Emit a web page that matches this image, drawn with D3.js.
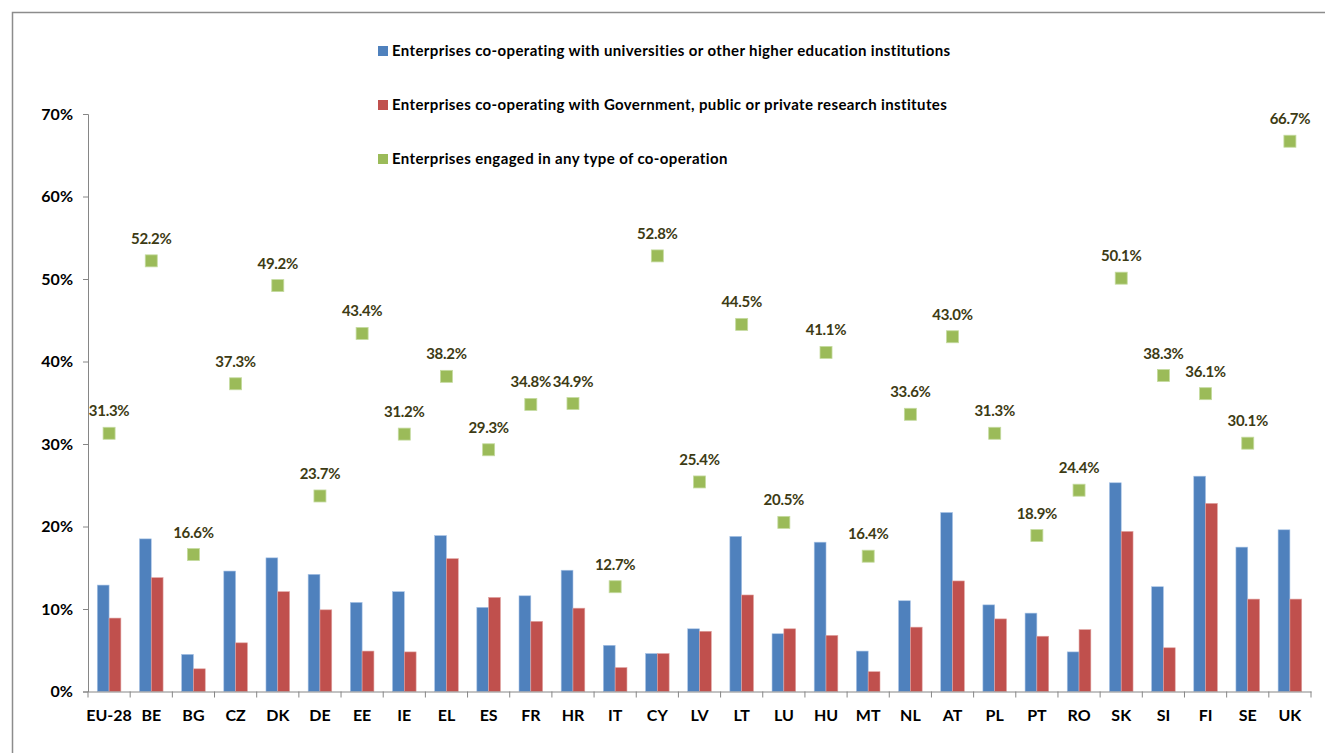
<!DOCTYPE html>
<html>
<head>
<meta charset="utf-8">
<script src="https://cdn.jsdelivr.net/npm/d3@7"></script>
<style>
  html, body { margin: 0; padding: 0; background: #fff; }
  svg { display: block; }
  text { font-family: Lato, "Liberation Sans", sans-serif; font-weight: bold; }
</style>
</head>
<body>
<svg id="chart" width="1325" height="753"></svg>
<script>
const categories = ["EU-28","BE","BG","CZ","DK","DE","EE","IE","EL","ES","FR","HR","IT","CY","LV","LT","LU","HU","MT","NL","AT","PL","PT","RO","SK","SI","FI","SE","UK"];
const universities = [12.9,18.5,4.5,14.6,16.2,14.2,10.8,12.1,18.9,10.2,11.6,14.7,5.6,4.6,7.6,18.8,7.0,18.1,4.9,11.0,21.7,10.5,9.5,4.8,25.3,12.7,26.1,17.5,19.6];
const government = [8.9,13.8,2.75,5.9,12.1,9.9,4.9,4.8,16.1,11.4,8.5,10.1,2.9,4.6,7.3,11.7,7.6,6.8,2.4,7.8,13.4,8.8,6.7,7.5,19.4,5.3,22.8,11.2,11.2];
const anyType = [31.3,52.2,16.6,37.3,49.2,23.7,43.4,31.2,38.2,29.3,34.8,34.9,12.7,52.8,25.4,44.5,20.5,41.1,16.4,33.6,43.0,31.3,18.9,24.4,50.1,38.3,36.1,30.1,66.7];
const yTicks = [0,10,20,30,40,50,60,70];
const seriesNames = [
  "Enterprises co-operating with universities or other higher education institutions",
  "Enterprises co-operating with Government, public or private research institutes",
  "Enterprises engaged in any type of co-operation"
];
const colors = ["#4F81BD","#C0504D","#9BBB59"];

const svg = d3.select("#chart");

// outer frame
svg.append("rect").attr("x",12.5).attr("y",12.5).attr("width",1400).attr("height",800)
  .attr("fill","none").attr("stroke","#8c8c8c").attr("stroke-width",1.5);

const mLeft = 88, mRight = 1311, mTop = 114, mBottom = 691.5;
const x = d3.scaleBand().domain(categories).range([mLeft, mRight]).paddingInner(0).paddingOuter(0);
const y = d3.scaleLinear().domain([0,70]).range([mBottom, mTop]);
const barW = x.bandwidth() * 0.28;

const g = svg.append("g");

// bars
categories.forEach((c,i) => {
  const cx = x(c) + x.bandwidth()/2;
  g.append("rect").attr("x", cx - barW).attr("y", y(universities[i]))
    .attr("width", barW).attr("height", y(0) - y(universities[i]))
    .attr("fill", colors[0]).attr("stroke","#a9c4e6").attr("stroke-width",0.6);
  g.append("rect").attr("x", cx).attr("y", y(government[i]))
    .attr("width", barW).attr("height", y(0) - y(government[i]))
    .attr("fill", colors[1]).attr("stroke","#e0a3a1").attr("stroke-width",0.6);
});

// y axis
const yAxis = d3.axisLeft(y).tickValues(yTicks).tickFormat(d => d + "%").tickSize(5).tickPadding(10);
const yg = svg.append("g").attr("transform", `translate(${mLeft},0)`).call(yAxis);
yg.select(".domain").attr("stroke","#868686");
yg.selectAll(".tick line").attr("stroke","#868686");
yg.selectAll(".tick text").attr("fill","#000").style("font-size","16px").style("font-family","Lato, sans-serif").style("font-weight","bold");

// x axis
const xAxis = d3.axisBottom(x).tickSize(0).tickPadding(18);
const xg = svg.append("g").attr("transform", `translate(0,${mBottom})`).call(xAxis);
xg.select(".domain").attr("stroke","#868686");
xg.selectAll(".tick text").attr("fill","#000").style("font-size","16px").style("font-family","Lato, sans-serif").style("font-weight","bold");
// category boundary ticks
const bounds = categories.map(c => x(c)).concat([mRight]);
xg.selectAll(".bt").data(bounds).enter().append("line")
  .attr("x1", d => d).attr("x2", d => d).attr("y1", 0).attr("y2", 6)
  .attr("stroke","#868686");

// green markers
categories.forEach((c,i) => {
  const cx = x(c) + x.bandwidth()/2;
  g.append("rect").attr("x", cx - 6).attr("y", y(anyType[i]) - 6)
    .attr("width", 12).attr("height", 12)
    .attr("fill", colors[2]).attr("stroke","#c5dba0").attr("stroke-width",0.8);
  svg.append("text").attr("x", cx).attr("y", y(anyType[i]) - 17)
    .attr("text-anchor","middle").attr("fill","#3d3b14")
    .style("font-size","15px").style("letter-spacing","-0.3px").text(anyType[i].toFixed(1) + "%");
});

// legend
const legY = [51,105,159];
seriesNames.forEach((s,i) => {
  svg.append("rect").attr("x", 378).attr("y", legY[i] - 5).attr("width", 10).attr("height", 10).attr("fill", colors[i]);
  svg.append("text").attr("x", 392).attr("y", legY[i]).attr("dy","0.35em")
    .attr("fill","#000").style("font-size","15px").style("letter-spacing","0.37px").text(s);
});
</script>
</body>
</html>
